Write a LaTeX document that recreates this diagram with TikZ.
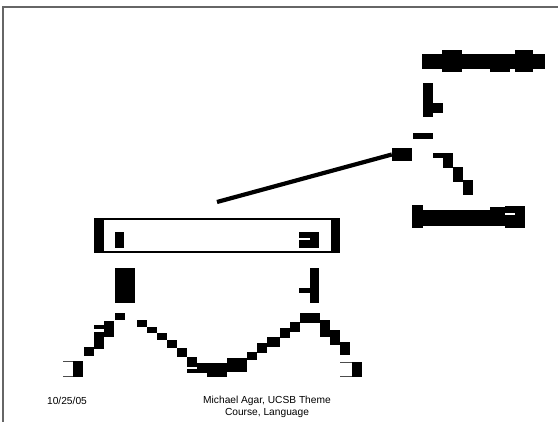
\documentclass[tikz,border=0pt]{standalone}
\usepackage{fontspec}
\setmainfont{Liberation Sans}
\usetikzlibrary{positioning}
\tikzset{
  blk/.style={fill=black, draw=none},
  gap/.style={fill=white, draw=none},
  lnk/.style={draw=black, line width=4.2pt},
  thin/.style={draw=black!70, line width=0.8pt},
  lab/.style={font=\fontsize{10.2}{12}\selectfont, align=center, inner sep=0pt}
}

\begin{document}
\begin{tikzpicture}[x=1pt, y=-1pt]
\useasboundingbox (0,0) rectangle (558,422);
% slide frame
\draw[draw=black!60, line width=1.5pt] (3,422) -- (3,7) -- (558,7);

% top right blocks
\foreach \xa/\ya/\xb/\yb in {422/54/545/69, 442/50/462/72, 490/58/510/72, 515/50/533/72,
  423/83/433/117, 433/103/443/113, 413/133/433/139,
  433/153/453/158, 443/153/453/168, 453/167/463/182, 463/180/473/195,
  423/210/525/226, 412/205/423/228, 490/207/505/226, 505/206/525/228}
  \fill[blk] (\xa,\ya) rectangle (\xb,\yb);
\fill[gap] (505,213) rectangle (515,215);

% long link
\node[blk, minimum width=20pt, minimum height=13pt, inner sep=0pt] (tip) at (402,154.5) {};
\coordinate (tail) at (217,202);
\draw[lnk] (tail) -- (tip.west);

% box
\node[draw=black, line width=2pt, minimum width=244pt, minimum height=33pt, inner sep=0pt] (bar) at (217,235.5) {};
\fill[blk] (94,218) rectangle (104,253);
\fill[blk] (331,218) rectangle (340,253);
\fill[blk] (115,232) rectangle (124,248);
\fill[blk] (299,232) rectangle (319,248);
\fill[gap] (299,238) rectangle (310,240);

% under the box
\fill[blk] (115,268) rectangle (135,303);
\fill[blk] (310,268) rectangle (319,303);
\fill[blk] (299,288) rectangle (310,293);

% wave
\foreach \xa/\ya/\xb/\yb in {115/313/125/320, 104/321/114/337, 94/325/104/329, 94/332/104/349,
  84/347/94/356, 73/361/83/377,
  137/320/147/327, 147/327/157/333, 157/333/167/340, 167/340/177/348, 177/348/187/357,
  187/357/197/363, 187/363/207/373, 207/363/227/377, 227/358/247/372, 247/352/257/360,
  257/343/267/353, 267/337/280/347, 280/328/290/338, 290/322/300/332, 300/313/320/323,
  320/320/330/337, 330/330/340/345, 340/342/350/355, 352/362/362/377}
  \fill[blk] (\xa,\ya) rectangle (\xb,\yb);
\fill[gap] (187,367) rectangle (197,369);
\draw[thin] (63,361.5) -- (73,361.5) (63,376.5) -- (73,376.5);
\draw[thin] (340,362.5) -- (352,362.5) (340,376.5) -- (352,376.5);

% footer
\node[lab] (date) at (67,401) {10/25/05};
\node[lab] (auth) at (267,407) {Michael Agar, UCSB Theme\\Course, Language};
\end{tikzpicture}
\end{document}
